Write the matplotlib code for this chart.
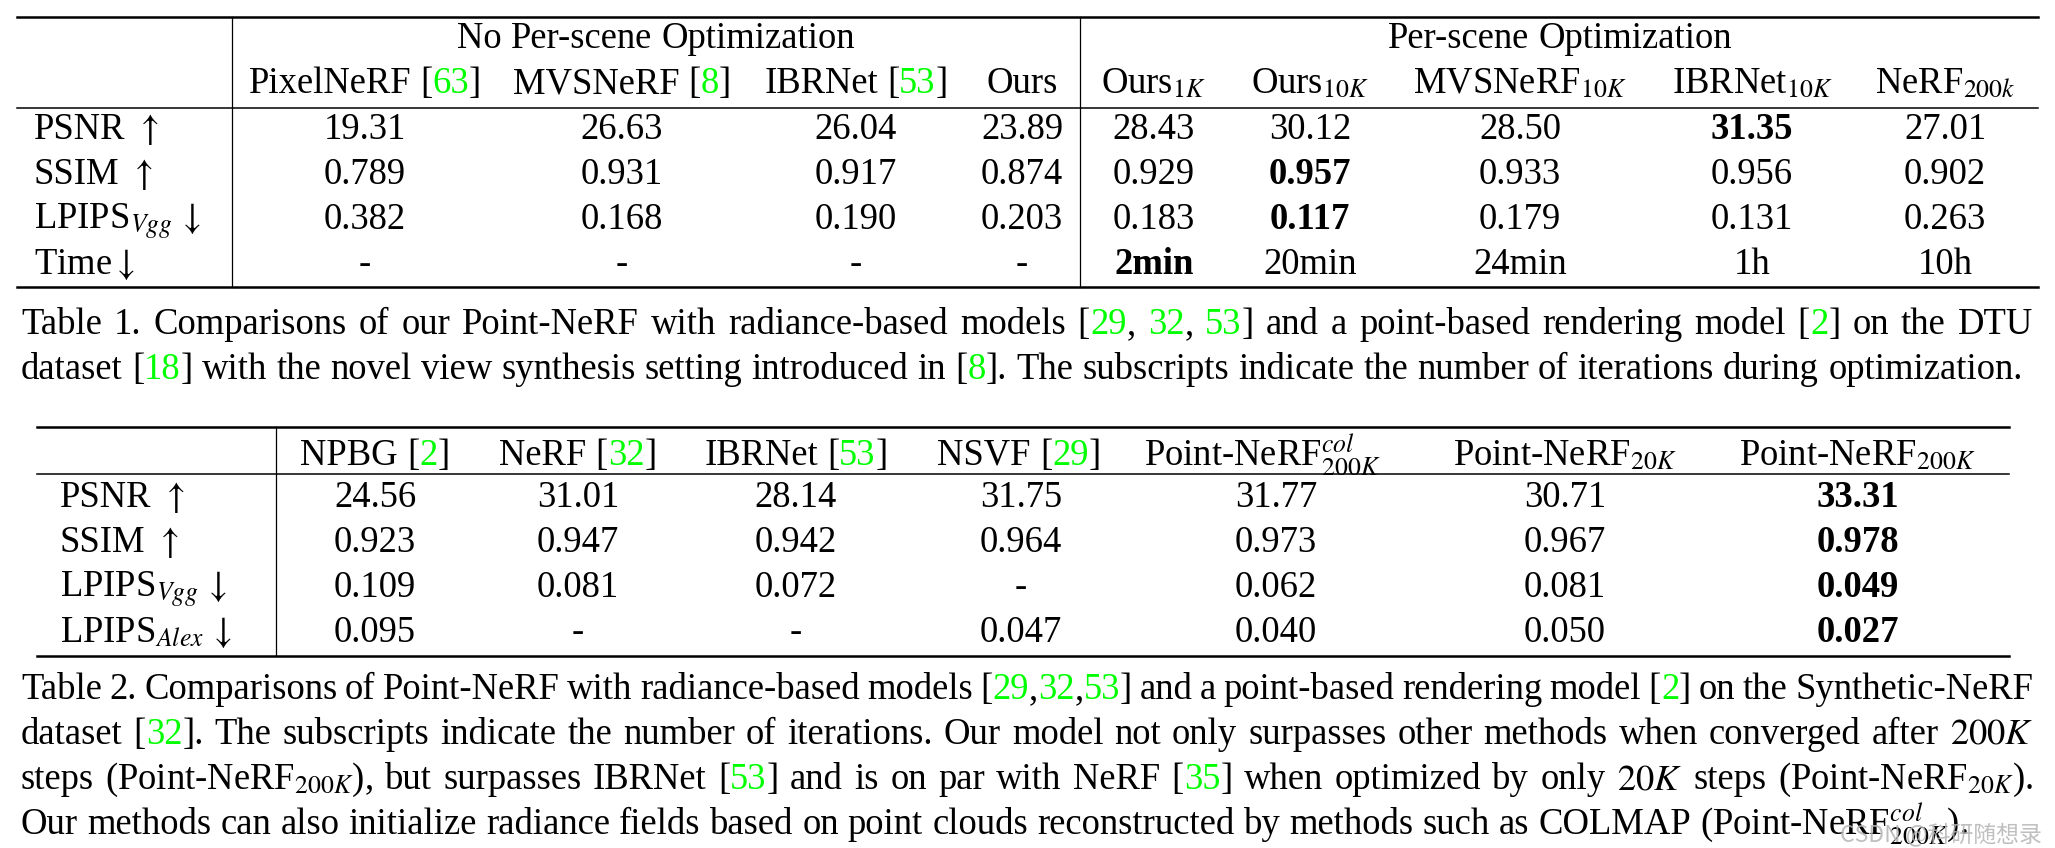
import matplotlib
import matplotlib.pyplot as plt

plt.switch_backend("agg")
plt.rcParams["font.family"] = ["Liberation Serif", "DejaVu Serif"]
plt.rcParams["mathtext.fontset"] = "stix"

W, H = 2055, 848
FS = 26.4
BLACK = "black"
GREEN = "#00ff00"

# ---- Table 1 data ----
T1_GROUPS = ["No Per-scene Optimization", "Per-scene Optimization"]
T1_METHODS = ["PixelNeRF", "MVSNeRF", "IBRNet", "Ours", "Ours$_{1K}$", "Ours$_{10K}$",
              "MVSNeRF$_{10K}$", "IBRNet$_{10K}$", "NeRF$_{200k}$"]
T1_CITES = ["63", "8", "53", "", "", "", "", "", ""]
T1_METRICS = [r"PSNR $\uparrow$", r"SSIM $\uparrow$", r"LPIPS$_{Vgg}\,\downarrow$", r"Time$\downarrow$"]
T1_VALUES = [
    ["19.31", "26.63", "26.04", "23.89", "28.43", "30.12", "28.50", "31.35", "27.01"],
    ["0.789", "0.931", "0.917", "0.874", "0.929", "0.957", "0.933", "0.956", "0.902"],
    ["0.382", "0.168", "0.190", "0.203", "0.183", "0.117", "0.179", "0.131", "0.263"],
    ["-", "-", "-", "-", "2min", "20min", "24min", "1h", "10h"],
]
T1_BEST = [7, 5, 5, 4]  # bold column per row

# ---- Table 2 data ----
T2_METHODS = ["NPBG", "NeRF", "IBRNet", "NSVF", "Point-NeRF$^{col}_{200K}$",
              "Point-NeRF$_{20K}$", "Point-NeRF$_{200K}$"]
T2_CITES = ["2", "32", "53", "29", "", "", ""]
T2_METRICS = [r"PSNR $\uparrow$", r"SSIM $\uparrow$", r"LPIPS$_{Vgg}\,\downarrow$",
              r"LPIPS$_{Alex}\,\downarrow$"]
T2_VALUES = [
    ["24.56", "31.01", "28.14", "31.75", "31.77", "30.71", "33.31"],
    ["0.923", "0.947", "0.942", "0.964", "0.973", "0.967", "0.978"],
    ["0.109", "0.081", "0.072", "-", "0.062", "0.081", "0.049"],
    ["0.095", "-", "-", "0.047", "0.040", "0.050", "0.027"],
]
T2_BEST = [6, 6, 6, 6]

# ---- captions: (text, is_citation) pieces per line ----
CAP1 = [
    [("Table 1.  Comparisons of our Point-NeRF with radiance-based models [", 0), ("29", 1), (", ", 0),
     ("32", 1), (", ", 0), ("53", 1), ("] and a point-based rendering model [", 0), ("2", 1),
     ("] on the DTU", 0)],
    [("dataset [", 0), ("18", 1), ("] with the novel view synthesis setting introduced in [", 0), ("8", 1),
     ("]. The subscripts indicate the number of iterations during optimization.", 0)],
]
CAP2 = [
    [("Table 2. Comparisons of Point-NeRF with radiance-based models [", 0), ("29", 1), (",", 0),
     ("32", 1), (",", 0), ("53", 1), ("] and a point-based rendering model [", 0), ("2", 1),
     ("] on the Synthetic-NeRF", 0)],
    [("dataset [", 0), ("32", 1), ("]. The subscripts indicate the number of iterations. Our model not "
                                   "only surpasses other methods when converged after $200K$", 0)],
    [("steps (Point-NeRF$_{200K}$), but surpasses IBRNet [", 0), ("53", 1),
     ("] and is on par with NeRF [", 0), ("35", 1),
     ("] when optimized by only $20K$ steps (Point-NeRF$_{20K}$).", 0)],
    [("Our methods can also initialize radiance fields based on point clouds reconstructed by methods "
      "such as COLMAP (Point-NeRF$^{col}_{200K}$).", 0)],
]

fig = plt.figure(figsize=(W / 100, H / 100), dpi=100)
fig.patch.set_facecolor("white")
renderer = fig.canvas.get_renderer()


def fx(x):
    return x / W


def fy(y):
    return 1 - y / H


def hline(x0, x1, y, lw):
    fig.add_artist(plt.Line2D([fx(x0), fx(x1)], [fy(y), fy(y)], color=BLACK, lw=lw,
                              transform=fig.transFigure))


def vline(x, y0, y1, lw=0.9):
    fig.add_artist(plt.Line2D([fx(x), fx(x)], [fy(y0), fy(y1)], color=BLACK, lw=lw,
                              transform=fig.transFigure))


def to_words(pieces):
    # pieces: (text, color, weight); split into words on spaces
    words = [[]]
    for text, color, weight in pieces:
        parts = text.split(" ")
        for i, p in enumerate(parts):
            if i > 0:
                words.append([])
            if p:
                words[-1].append((p, color, weight))
    return [w for w in words if w]


def make_words(words, fs):
    out = []
    for w in words:
        texts = []
        wsum = 0
        for s, color, weight in w:
            t = fig.text(0, 0, s, fontsize=fs, color=color, fontweight=weight,
                         ha="left", va="baseline")
            wd = t.get_window_extent(renderer).width
            texts.append((t, wd))
            wsum += wd
        out.append((texts, wsum))
    return out


def space_width(fs):
    a = fig.text(0, 0, "n n", fontsize=fs)
    b = fig.text(0, 0, "nn", fontsize=fs)
    sw = a.get_window_extent(renderer).width - b.get_window_extent(renderer).width
    a.remove()
    b.remove()
    return sw


SPACE = space_width(FS)


def place(built, x0, y, gap):
    x = x0
    for texts, wsum in built:
        for t, wd in texts:
            t.set_position((fx(x), fy(y)))
            x += wd
        x += gap
    return x - gap


def draw_cell(pieces, cx, y, fs=FS, ha="center"):
    built = make_words(to_words(pieces), fs)
    total = sum(w for _, w in built) + SPACE * (len(built) - 1)
    x0 = cx - total / 2 if ha == "center" else cx
    place(built, x0, y, SPACE)


def draw_par(lines, x0, x1, y0, step):
    for i, line in enumerate(lines):
        pieces = [(s, GREEN if c else BLACK, "normal") for s, c in line]
        built = make_words(to_words(pieces), FS)
        wsum = sum(w for _, w in built)
        if i < len(lines) - 1 and len(built) > 1:
            gap = (x1 - x0 - wsum) / (len(built) - 1)
        else:
            gap = SPACE
        place(built, x0, y0 + i * step, gap)


def method_pieces(name, cite):
    if cite:
        return [(name + " [", BLACK, "normal"), (cite, GREEN, "normal"), ("]", BLACK, "normal")]
    return [(name, BLACK, "normal")]


# ---------------- Table 1 ----------------
T1_X = [365, 622, 856, 1022, 1154, 1310, 1520, 1752, 1945]
T1_ROW_Y = [139, 184, 229, 274]
T1_LEFT, T1_RIGHT = 17, 2038

hline(T1_LEFT, T1_RIGHT, 17, 1.8)
hline(T1_LEFT, T1_RIGHT, 108, 1.1)
hline(T1_LEFT, T1_RIGHT, 287, 1.8)
vline(232, 17, 287)
vline(1080, 17, 287)

draw_cell([(T1_GROUPS[0], BLACK, "normal")], 656, 48)
draw_cell([(T1_GROUPS[1], BLACK, "normal")], 1560, 48)
for x, name, cite in zip(T1_X, T1_METHODS, T1_CITES):
    draw_cell(method_pieces(name, cite), x, 93)

for r, (label, row) in enumerate(zip(T1_METRICS, T1_VALUES)):
    y = T1_ROW_Y[r]
    draw_cell([(label, BLACK, "normal")], 34, y, ha="left")
    for c, (x, v) in enumerate(zip(T1_X, row)):
        w = "bold" if c == T1_BEST[r] else "normal"
        draw_cell([(v, BLACK, w)], x, y)

draw_par(CAP1, 21, 2033, 334, 45)

# ---------------- Table 2 ----------------
T2_X = [375, 578, 796, 1021, 1276, 1565, 1858]
T2_HEAD_X = [375, 578, 796, 1019, 1262, 1565, 1857]
T2_ROW_Y = [507, 552, 597, 642]
T2_LEFT, T2_RIGHT = 37, 2009

hline(T2_LEFT, T2_RIGHT, 427, 1.8)
hline(T2_LEFT, T2_RIGHT, 474, 1.1)
hline(T2_LEFT, T2_RIGHT, 656, 1.8)
vline(276, 427, 656)

for x, name, cite in zip(T2_HEAD_X, T2_METHODS, T2_CITES):
    draw_cell(method_pieces(name, cite), x, 465)

for r, (label, row) in enumerate(zip(T2_METRICS, T2_VALUES)):
    y = T2_ROW_Y[r]
    draw_cell([(label, BLACK, "normal")], 60, y, ha="left")
    for c, (x, v) in enumerate(zip(T2_X, row)):
        w = "bold" if c == T2_BEST[r] else "normal"
        draw_cell([(v, BLACK, w)], x, y)

draw_par(CAP2, 21, 2033, 699, 45)

# watermark (sits over the end of the last caption line, as in the source)
fig.text(fx(2042), fy(834), "CSDN @科研随想录", fontsize=16.5, color="#b4b4b4", alpha=0.85,
         ha="right", va="center", family=["Noto Sans CJK SC", "DejaVu Sans"])

fig.savefig("out.png", dpi=100, facecolor="white")
